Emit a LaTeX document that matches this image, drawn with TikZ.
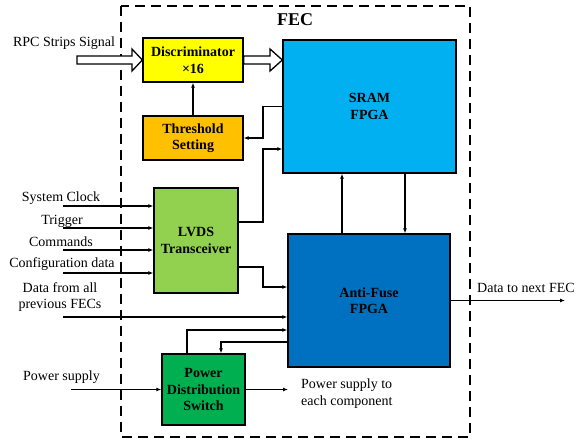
\documentclass[tikz,border=0pt]{standalone}
\usepackage{fontspec}
\setmainfont{Liberation Serif}
\usetikzlibrary{arrows.meta}
\definecolor{yel}{HTML}{FFFF00}
\definecolor{org}{HTML}{FFC000}
\definecolor{cyn}{HTML}{00B0F0}
\definecolor{blu}{HTML}{0070C0}
\definecolor{lgr}{HTML}{92D050}
\definecolor{dgr}{HTML}{00B050}
\tikzset{
  blk/.style={draw=black, line width=1.3pt, inner sep=0pt, align=center,
    font=\fontsize{14}{16.5}\selectfont\bfseries},
  lbl/.style={inner sep=0pt, align=center, font=\fontsize{14}{16.5}\selectfont},
  arr/.style={line width=1.2pt, -{Latex[length=5pt,width=4pt]}},
  ln/.style={line width=1.2pt},
  fat/.style={draw=black, line width=1.3pt, fill=white, line join=miter}
}
\begin{document}
\begin{tikzpicture}[x=1pt,y=-1pt]
\useasboundingbox (0,0) rectangle (576,440);
% frame
\draw[line width=1.4pt, dash pattern=on 10pt off 6pt] (121,6) rectangle (470,437);
\node[lbl, font=\fontsize{18}{20}\selectfont\bfseries] (fec) at (295,20) {FEC};
% blocks
\node[blk, fill=yel, minimum width=100pt, minimum height=44pt] (disc) at (193,60) {Discriminator\\×16};
\node[blk, fill=org, minimum width=100pt, minimum height=44pt] (thr) at (193,138) {Threshold\\Setting};
\node[blk, fill=cyn, minimum width=173pt, minimum height=133pt] (sram) at (369.5,106.5) {SRAM\\FPGA};
\node[blk, fill=blu, minimum width=162pt, minimum height=133pt] (af) at (369,300.5) {Anti-Fuse\\FPGA};
\node[blk, fill=lgr, minimum width=84pt, minimum height=105pt] (lvds) at (196,240.5) {LVDS\\Transceiver};
\node[blk, fill=dgr, minimum width=83pt, minimum height=71pt] (pow) at (203.5,389.5) {Power\\Distribution\\Switch};
% fat arrows
\draw[fat] (77,56) -- (132,56) -- (132,49) -- (disc.west) -- (132,71) -- (132,64) -- (77,64) -- cycle;
\draw[fat] (disc.east |- 0,56) -- (270,56) -- (270,49) -- (sram.west |- 0,60) -- (270,71) -- (270,64) -- (disc.east |- 0,64) -- cycle;
% labels
\node[lbl] (rpc) at (64,43) {RPC Strips Signal};
\node[lbl] (lclk) at (61,198) {System Clock};
\node[lbl] (ltrg) at (62,221) {Trigger};
\node[lbl] (lcmd) at (61,242) {Commands};
\node[lbl] (lcfg) at (62,264) {Configuration data};
\node[lbl] (lprev) at (60,297) {Data from all\\previous FECs};
\node[lbl] (lps) at (61.5,377) {Power supply};
\node[lbl] (lnext) at (526,288) {Data to next FEC};
\node[lbl, align=left, anchor=west] (lpout) at (301,393.5) {Power supply to\\each component};
% coordinates
\coordinate (iclk) at (63,206);
\coordinate (itrg) at (63,228);
\coordinate (icmd) at (63,250);
\coordinate (icfg) at (63,273);
\coordinate (iprev) at (63,317);
\coordinate (ips) at (71,389.5);
\coordinate (opow) at (288,389.5);
\coordinate (onext) at (565,300.5);
% connectors
\draw[arr] (thr.north) -- (disc.south);
\draw[arr] (sram.west) -- (263,106.5) |- (thr.east);
\draw[arr] ([yshift=18.5pt]lvds.east) -- (263,222) |- (sram.west |- 0,149);
\draw[arr] ([yshift=-26.5pt]lvds.east) -- (263,267) |- (af.west |- 0,287);
\draw[arr] (iclk) -- (lvds.west |- iclk);
\draw[arr] (itrg) -- (lvds.west |- itrg);
\draw[arr] (icmd) -- (lvds.west |- icmd);
\draw[arr] (icfg) -- (lvds.west |- icfg);
\draw[arr] (iprev) -- (af.west |- iprev);
\draw[arr] ([xshift=-16.5pt]pow.north) |- (af.west |- 0,330);
\draw[arr] (af.west |- 0,342) -| ([xshift=17.5pt]pow.north);
\draw[arr] (ips) -- (pow.west);
\draw[arr] (pow.east) -- (opow);
\draw[arr] (af.north -| 342,0) -- (sram.south -| 342,0);
\draw[arr] (sram.south -| 405,0) -- (af.north -| 405,0);
\draw[arr] (af.east) -- (onext);
\end{tikzpicture}
\end{document}
